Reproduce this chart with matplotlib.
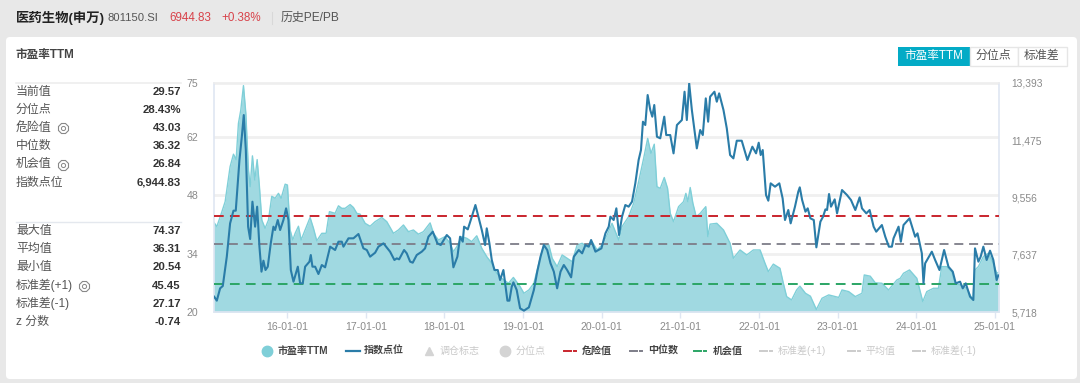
# -*- coding: utf-8 -*-
import matplotlib
matplotlib.use("Agg")
import matplotlib.pyplot as plt
from matplotlib.patches import FancyBboxPatch, Rectangle

plt.rcParams['font.family'] = ['Liberation Sans', 'Noto Sans CJK SC', 'DejaVu Sans']

W, H = 1080, 383

# decimal years, PE values off the left axis
pe_years = [2015.064, 2015.106, 2015.157, 2015.212, 2015.275, 2015.318, 2015.352, 2015.381, 2015.411, 2015.445,
            2015.475, 2015.508, 2015.530, 2015.559, 2015.589, 2015.619, 2015.648, 2015.678, 2015.720, 2015.763,
            2015.805, 2015.847, 2015.890, 2015.924, 2015.975, 2016.004, 2016.038, 2016.072, 2016.102, 2016.144,
            2016.178, 2016.229, 2016.292, 2016.335, 2016.377, 2016.441, 2016.496, 2016.538, 2016.610, 2016.653,
            2016.695, 2016.737, 2016.801, 2016.843, 2016.886, 2016.928, 2016.992, 2017.055, 2017.119, 2017.203,
            2017.267, 2017.352, 2017.415, 2017.479, 2017.542, 2017.606, 2017.669, 2017.733, 2017.818, 2017.860,
            2017.924, 2018.008, 2018.072, 2018.114, 2018.157, 2018.220, 2018.284, 2018.347, 2018.411, 2018.475,
            2018.538, 2018.602, 2018.665, 2018.729, 2018.814, 2018.877, 2018.962, 2019.011, 2019.074, 2019.137,
            2019.180, 2019.222, 2019.264, 2019.328, 2019.370, 2019.433, 2019.497, 2019.560, 2019.624, 2019.687,
            2019.751, 2019.814, 2019.877, 2019.941, 2020.004, 2020.068, 2020.131, 2020.216, 2020.258, 2020.342,
            2020.406, 2020.469, 2020.533, 2020.584, 2020.626, 2020.668, 2020.702, 2020.744, 2020.795, 2020.837,
            2020.871, 2020.913, 2020.977, 2021.040, 2021.070, 2021.095, 2021.125, 2021.159, 2021.201, 2021.252,
            2021.323, 2021.349, 2021.378, 2021.463, 2021.548, 2021.632, 2021.674, 2021.759, 2021.844, 2021.928,
            2022.013, 2022.076, 2022.118, 2022.182, 2022.266, 2022.309, 2022.351, 2022.414, 2022.478, 2022.520,
            2022.590, 2022.653, 2022.729, 2022.801, 2022.886, 2022.949, 2023.013, 2023.055, 2023.140, 2023.224,
            2023.309, 2023.338, 2023.414, 2023.478, 2023.562, 2023.647, 2023.753, 2023.795, 2023.837, 2023.913,
            2024.006, 2024.082, 2024.133, 2024.218, 2024.281, 2024.323, 2024.387, 2024.450, 2024.493, 2024.556,
            2024.641, 2024.717, 2024.746, 2024.789, 2024.852, 2024.915, 2024.979, 2025.021, 2025.051]
pe_values = [41.7, 40.5, 43.3, 46.5, 54.9, 57.9, 56.6, 65.3, 68.5, 74.37,
             67.7, 54.1, 50.1, 57.5, 51.7, 56.6, 50.1, 42.1, 40.1, 42.1,
             47.8, 47.3, 48.5, 47.3, 50.7, 50.5, 39.7, 37.3, 38.9, 40.6,
             37.3, 39.7, 42.7, 40.1, 37.1, 38.9, 38.9, 44.1, 43.7, 45.5,
             44.9, 44.9, 45.8, 45.1, 43.7, 43.5, 41.3, 40.6, 41.7, 42.7,
             41.7, 38.9, 39.7, 40.9, 39.3, 39.7, 38.7, 39.3, 41.4, 38.9,
             37.3, 38.1, 36.5, 34.5, 35.7, 38.1, 37.7, 36.9, 38.3, 35.3,
             33.3, 31.7, 29.3, 28.1, 26.9, 28.3, 26.1, 24.5, 25.3, 26.9,
             30.1, 33.3, 36.1, 36.1, 32.9, 30.9, 33.7, 32.9, 32.1, 36.1,
             36.5, 35.7, 36.9, 34.9, 36.1, 38.5, 41.3, 37.3, 40.5, 42.9,
             46.1, 51.3, 56.9, 61.7, 58.1, 60.3, 50.1, 49.7, 52.3, 49.7,
             43.7, 41.7, 45.3, 46.5, 48.5, 46.5, 49.9, 46.1, 42.9, 43.7,
             45.3, 38.1, 41.1, 41.3, 39.7, 36.5, 32.9, 34.9, 33.7, 34.9,
             34.9, 31.7, 29.7, 31.5, 30.5, 26.9, 23.7, 22.9, 25.3, 26.2,
             24.5, 23.8, 20.6, 23.3, 24.1, 23.8, 23.5, 25.3, 24.9, 23.7,
             24.5, 28.9, 28.6, 27.0, 26.9, 25.3, 27.7, 28.1, 29.3, 30.1,
             28.1, 22.5, 24.9, 25.7, 25.7, 30.9, 30.9, 29.7, 26.9, 26.5,
             25.7, 22.9, 30.1, 30.9, 33.3, 34.1, 31.7, 29.3, 29.57]

idx_years = [2015.072, 2015.106, 2015.148, 2015.182, 2015.233, 2015.275, 2015.318, 2015.347, 2015.394, 2015.424,
             2015.449, 2015.475, 2015.504, 2015.530, 2015.559, 2015.593, 2015.619, 2015.648, 2015.674, 2015.699,
             2015.725, 2015.754, 2015.792, 2015.826, 2015.847, 2015.881, 2015.911, 2015.953, 2015.987, 2016.017,
             2016.047, 2016.081, 2016.136, 2016.165, 2016.199, 2016.229, 2016.284, 2016.301, 2016.322, 2016.356,
             2016.398, 2016.441, 2016.483, 2016.547, 2016.610, 2016.653, 2016.695, 2016.716, 2016.780, 2016.843,
             2016.907, 2016.970, 2017.013, 2017.055, 2017.119, 2017.161, 2017.225, 2017.309, 2017.364, 2017.394,
             2017.424, 2017.487, 2017.521, 2017.564, 2017.597, 2017.648, 2017.712, 2017.754, 2017.797, 2017.852,
             2017.911, 2017.953, 2018.030, 2018.072, 2018.114, 2018.165, 2018.199, 2018.233, 2018.250, 2018.297,
             2018.335, 2018.394, 2018.432, 2018.475, 2018.517, 2018.538, 2018.572, 2018.602, 2018.636, 2018.678,
             2018.708, 2018.750, 2018.801, 2018.826, 2018.856, 2018.877, 2018.919, 2018.962, 2019.011, 2019.074,
             2019.137, 2019.180, 2019.222, 2019.264, 2019.307, 2019.349, 2019.391, 2019.433, 2019.476, 2019.518,
             2019.560, 2019.611, 2019.645, 2019.708, 2019.751, 2019.793, 2019.835, 2019.865, 2019.920, 2019.996,
             2020.047, 2020.089, 2020.110, 2020.152, 2020.186, 2020.220, 2020.258, 2020.300, 2020.342, 2020.385,
             2020.427, 2020.469, 2020.499, 2020.524, 2020.554, 2020.584, 2020.617, 2020.643, 2020.668, 2020.702,
             2020.744, 2020.795, 2020.820, 2020.871, 2020.913, 2020.956, 2021.019, 2021.053, 2021.082, 2021.112,
             2021.146, 2021.209, 2021.252, 2021.285, 2021.323, 2021.353, 2021.378, 2021.433, 2021.463, 2021.493,
             2021.548, 2021.590, 2021.632, 2021.674, 2021.717, 2021.780, 2021.852, 2021.915, 2021.962, 2021.996,
             2022.021, 2022.047, 2022.089, 2022.118, 2022.148, 2022.203, 2022.258, 2022.300, 2022.330, 2022.372,
             2022.402, 2022.457, 2022.499, 2022.518, 2022.548, 2022.590, 2022.619, 2022.653, 2022.696, 2022.729,
             2022.780, 2022.814, 2022.844, 2022.865, 2022.890, 2022.915, 2022.962, 2022.992, 2023.055, 2023.118,
             2023.169, 2023.224, 2023.279, 2023.309, 2023.364, 2023.406, 2023.457, 2023.490, 2023.562, 2023.605,
             2023.651, 2023.689, 2023.710, 2023.774, 2023.803, 2023.837, 2023.913, 2023.985, 2024.015, 2024.070,
             2024.091, 2024.112, 2024.197, 2024.239, 2024.294, 2024.353, 2024.408, 2024.463, 2024.501, 2024.556,
             2024.590, 2024.628, 2024.683, 2024.725, 2024.746, 2024.789, 2024.818, 2024.852, 2024.894, 2024.937,
             2024.979, 2025.021, 2025.042]
idx_values = [6232, 6098, 6511, 6589, 7572, 8689, 9114, 9114, 10812, 11593,
              12319, 11147, 8578, 8164, 9415, 8578, 9248, 7907, 7070, 7438,
              7125, 7237, 8019, 8578, 8466, 8801, 8466, 8801, 9192, 8801,
              7125, 6734, 7237, 6679, 6679, 7237, 7405, 7628, 7237, 7237,
              6991, 7293, 7215, 7907, 7796, 8075, 8075, 7907, 8187, 8187,
              8332, 7851, 7796, 7572, 7706, 7907, 8019, 7740, 7461, 7516,
              7483, 7796, 7684, 7405, 7371, 7628, 7740, 7851, 8242, 8410,
              8019, 7963, 8298, 8187, 7215, 7572, 8242, 8075, 8578, 8488,
              8801, 9304, 8913, 8466, 7963, 8522, 8019, 7461, 7125, 7125,
              6790, 7125, 6098, 6098, 6567, 6712, 6455, 5841, 5763, 5874,
              6455, 7070, 7572, 7963, 7796, 7349, 7070, 6511, 7070, 7293,
              7125, 6880, 7572, 7796, 7684, 7963, 7907, 8131, 7740, 7851,
              8354, 8578, 8913, 8801, 9192, 8298, 8913, 9304, 9248, 9415,
              10030, 10812, 11147, 12096, 11984, 12990, 12487, 12264, 12655, 11593,
              11538, 12264, 11649, 11649, 11035, 11984, 12152, 13101, 12152, 13381,
              12487, 11202, 11817, 11649, 12878, 12096, 12934, 13101, 12766, 13046,
              12487, 11873, 10979, 10867, 11459, 11459, 10812, 11258, 11035, 11392,
              10979, 11147, 9639, 9449, 10030, 9918, 10030, 9527, 8801, 9136,
              8689, 9248, 9750, 9896, 9471, 9080, 9192, 8857, 8801, 7885,
              8745, 8913, 9158, 9136, 9672, 9248, 9493, 9024, 9806, 9639,
              9471, 9136, 9560, 9192, 9024, 9136, 8578, 8410, 8633, 8242,
              7907, 7907, 8187, 8578, 8075, 8633, 8857, 8242, 8354, 7684,
              6679, 7349, 7740, 7461, 7125, 7796, 7237, 7070, 6679, 6734,
              6511, 6679, 6232, 6120, 7851, 7405, 7572, 7907, 7461, 7773,
              7461, 6790, 6944.83]

danger_value = 43.03
median_value = 36.32
chance_value = 26.84

year_ticks = [2016, 2017, 2018, 2019, 2020, 2021, 2022, 2023, 2024, 2025]
year_labels = ['16-01-01', '17-01-01', '18-01-01', '19-01-01', '20-01-01',
               '21-01-01', '22-01-01', '23-01-01', '24-01-01', '25-01-01']
pe_ticks = [20, 34, 48, 62, 75]
idx_ticks = [5718, 7637, 9556, 11475, 13393]

stats_top = [('当前值', '29.57'), ('分位点', '28.43%'), ('危险值', '43.03'),
             ('中位数', '36.32'), ('机会值', '26.84'), ('指数点位', '6,944.83')]
stats_bottom = [('最大值', '74.37'), ('平均值', '36.31'), ('最小值', '20.54'),
                ('标准差(+1)', '45.45'), ('标准差(-1)', '27.17'), ('z 分数', '-0.74')]

AREA = '#a0d9e1'
AREA_EDGE = '#7fcfd8'
LINE = '#2a7ca8'
RED = '#c9252d'
GREY = '#7d7d88'
GREEN = '#2ba565'
FAINT = '#c9c9c9'
TXT = '#555555'
DARK = '#333333'

fig = plt.figure(figsize=(W / 100, H / 100), dpi=100, facecolor='#e8e8e8')

# overlay in pixel coords for the page furniture around the chart
ui = fig.add_axes([0, 0, 1, 1], zorder=0)
ui.set_xlim(0, W)
ui.set_ylim(H, 0)
ui.axis('off')
ui.add_patch(FancyBboxPatch((6, 37), 1071, 342, boxstyle='round,pad=0,rounding_size=4',
                            fc='white', ec='none'))

ui.text(16, 18, '医药生物(申万)', fontsize=9.6, fontweight='bold', color='#222222', va='center')
ui.text(108, 18, '801150.SI', fontsize=8.1, color='#555555', va='center')
ui.text(169, 18, '6944.83', fontsize=8.4, color='#d8424a', va='center')
ui.text(221, 18, '+0.38%', fontsize=8.4, color='#d8424a', va='center')
ui.plot([272, 272], [12, 24], color='#d8d8d8', lw=0.8)
ui.text(281, 18, '历史PE/PB', fontsize=8.6, color='#555555', va='center')
ui.text(16, 55, '市盈率TTM', fontsize=8.4, fontweight='bold', color='#444444', va='center')

# stats panel
ui.plot([16, 181], [83, 83], color='#eeeeee', lw=1.2)
ui.plot([16, 181], [222, 222], color='#e4e8ee', lw=1)
for i, (name, val) in enumerate(stats_top):
    y = 92 + i * 18.1
    ui.text(16, y, name, fontsize=8.6, color=TXT, va='center')
    ui.text(181, y, val, fontsize=8.2, color=DARK, fontweight='bold', va='center', ha='right')
for i, (name, val) in enumerate(stats_bottom):
    y = 231 + i * 18.2
    ui.text(16, y, name, fontsize=8.6, color=TXT, va='center')
    ui.text(181, y, val, fontsize=8.2, color=DARK, fontweight='bold', va='center', ha='right')
for gx, gy in [(63, 128), (63, 165), (84, 286)]:
    ui.plot(gx, gy, marker='8', ms=8, mfc='none', mec='#888888', mew=0.8)
    ui.plot(gx, gy, marker='o', ms=3, mfc='none', mec='#888888', mew=0.7)

# buttons top right
ui.add_patch(Rectangle((897.5, 46.5), 72, 19.5, fc='#03abc6', ec='none'))
ui.add_patch(Rectangle((969.5, 46.5), 48, 19.5, fc='white', ec='#e6e6e6', lw=1))
ui.add_patch(Rectangle((1017.5, 46.5), 49, 19.5, fc='white', ec='#e6e6e6', lw=1))
ui.text(933.5, 56, '市盈率TTM', fontsize=8.4, color='white', ha='center', va='center')
ui.text(993.5, 56, '分位点', fontsize=8.6, color='#555555', ha='center', va='center')
ui.text(1042, 56, '标准差', fontsize=8.6, color='#555555', ha='center', va='center')

# legend, hand placed like the web chart
LEG_Y = 351
ui.plot(267, LEG_Y, 'o', ms=7.5, color='#7fcfd8')
ui.text(278, LEG_Y, '市盈率TTM', fontsize=7.2, color='#444444', fontweight='bold', va='center')
ui.plot([346, 360], [LEG_Y, LEG_Y], color=LINE, lw=1.6)
ui.text(364, LEG_Y, '指数点位', fontsize=7.2, color='#444444', fontweight='bold', va='center')
ui.plot(429, LEG_Y, '^', ms=6, color='#d4d4d4')
ui.text(440, LEG_Y, '调仓标志', fontsize=7.2, color=FAINT, va='center')
ui.plot(505, LEG_Y, 'o', ms=7.5, color='#d4d4d4')
ui.text(516, LEG_Y, '分位点', fontsize=7.2, color=FAINT, va='center')
dash_items = [(564, 582, '危险值', RED, '#444444', 'bold'),
              (630, 648, '中位数', GREY, '#444444', 'bold'),
              (694, 713, '机会值', GREEN, '#444444', 'bold'),
              (760, 778, '标准差(+1)', '#cccccc', FAINT, 'normal'),
              (848, 866, '平均值', '#cccccc', FAINT, 'normal'),
              (913, 931, '标准差(-1)', '#cccccc', FAINT, 'normal')]
for x0, tx, name, c, tc, fw in dash_items:
    ui.plot([x0, x0 + 7], [LEG_Y, LEG_Y], color=c, lw=1.4)
    ui.plot([x0 + 10, x0 + 12], [LEG_Y, LEG_Y], color=c, lw=1.4)
    ui.text(tx, LEG_Y, name, fontsize=7.2, color=tc, fontweight=fw, va='center')

# main chart
ax = fig.add_axes([213.5 / W, 1 - 312 / H, (999 - 213.5) / W, (312 - 83) / H], zorder=1)
ax.patch.set_alpha(0)
ax.set_xlim(2015.064, 2025.051)
ax.set_ylim(20, 75)
ax.fill_between(pe_years, pe_values, 20, color=AREA, lw=0, zorder=2)
ax.plot(pe_years, pe_values, color=AREA_EDGE, lw=1.0, zorder=2.1)

ax.set_yticks(pe_ticks)
ax.set_yticklabels([str(v) for v in pe_ticks], color='#8a8a8a', fontsize=7.6)
ax.grid(axis='y', color='#f0f0f0', lw=2, zorder=1)
ax.set_axisbelow(True)
ax.set_xticks(year_ticks)
ax.set_xticklabels(year_labels, color='#8a8a8a', fontsize=7.6)
ax.tick_params(axis='y', length=0, pad=11)
ax.tick_params(axis='x', length=4, width=1, color='#dfe6f2', pad=3)
for s in ['left', 'bottom', 'right']:
    ax.spines[s].set_color('#dfe6f2')
    ax.spines[s].set_linewidth(1.2)
ax.spines['top'].set_color('#eeeeee')
ax.spines['top'].set_linewidth(1.2)

ax.axhline(danger_value, color=RED, lw=1.4, ls=(0, (5, 3.2)), zorder=3)
ax.axhline(median_value, color=GREY, lw=1.3, ls=(0, (5, 3.2)), zorder=3)
ax.axhline(chance_value, color=GREEN, lw=1.4, ls=(0, (5, 3.2)), zorder=3)

ax2 = ax.twinx()
ax2.patch.set_alpha(0)
ax2.set_ylim(5718, 13393)
ax2.plot(idx_years, idx_values, color=LINE, lw=1.5, zorder=4)
ax2.set_yticks(idx_ticks)
ax2.set_yticklabels([f'{v:,}' for v in idx_ticks], color='#8a8a8a', fontsize=7.4)
ax2.tick_params(axis='y', length=0, pad=9)
for s in ax2.spines.values():
    s.set_visible(False)

fig.savefig('out.png', dpi=100, facecolor=fig.get_facecolor())
